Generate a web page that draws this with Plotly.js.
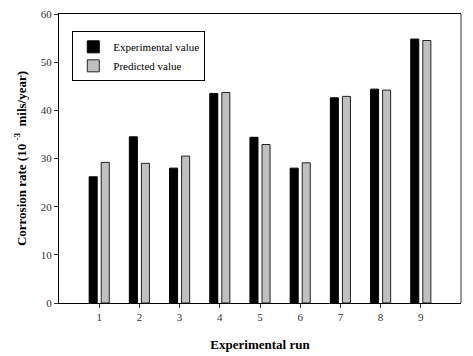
<!DOCTYPE html>
<html>
<head>
<meta charset="utf-8">
<script src="https://cdn.plot.ly/plotly-3.0.1.min.js"></script>
<style>html,body{margin:0;padding:0;background:#fff;}</style>
</head>
<body>
<div id="chart" style="width:473px;height:356px;"></div>
<script>
const runs = [1, 2, 3, 4, 5, 6, 7, 8, 9];
const tickLabels = ["1", "2", "3", "4", "5", "6", "7", "8", "9"];
const experimental = [26.2, 34.5, 28.0, 43.5, 34.4, 28.0, 42.6, 44.4, 54.8];
const predicted = [29.2, 29.0, 30.5, 43.7, 32.9, 29.1, 42.9, 44.2, 54.5];

const fontFam = '"Liberation Serif", "Times New Roman", serif';

const traces = [
  {
    type: 'bar', name: 'Experimental value', x: runs, y: experimental,
    width: 0.2, offset: -0.25,
    marker: {color: '#000000', line: {color: '#000000', width: 1}}
  },
  {
    type: 'bar', name: 'Predicted value', x: runs, y: predicted,
    width: 0.2, offset: 0.05,
    marker: {color: '#c0c0c0', line: {color: '#222222', width: 1}}
  }
];

const layout = {
  width: 473, height: 356,
  margin: {l: 59, r: 12, t: 14, b: 53},
  paper_bgcolor: '#ffffff', plot_bgcolor: '#ffffff',
  font: {family: fontFam, size: 11, color: '#333333'},
  showlegend: true,
  legend: {
    x: 0.033, y: 0.94, xanchor: 'left', yanchor: 'top',
    bgcolor: '#ffffff', bordercolor: '#000000', borderwidth: 1,
    font: {family: fontFam, size: 11, color: '#000000'},
    itemwidth: 30, tracegroupgap: 0
  },
  xaxis: {
    range: [0, 10], tickvals: runs, ticktext: tickLabels,
    showline: true, linecolor: '#000000', linewidth: 1, mirror: true,
    ticks: 'outside', ticklen: 4, tickcolor: '#333333',
    showgrid: false, zeroline: false,
    title: {text: '<b>Experimental run</b>', font: {family: fontFam, size: 13, color: '#000000'}, standoff: 17}
  },
  yaxis: {
    range: [0, 60], dtick: 10, tick0: 0,
    showline: true, linecolor: '#000000', linewidth: 1,
    ticks: 'outside', ticklen: 4, tickcolor: '#333333',
    showgrid: false, zeroline: false,
    title: {text: '<b>Corrosion rate (10 <sup>-3</sup>  mils/year)</b>', font: {family: fontFam, size: 13, color: '#000000'}, standoff: 11}
  },
  bargap: 0,
  shapes: [
    {type: 'line', xref: 'paper', yref: 'paper', x0: 1, x1: 1, y0: 0, y1: 1,
     line: {color: '#999999', width: 2}}
  ]
};

Plotly.newPlot('chart', traces, layout, {displayModeBar: false, staticPlot: true});
</script>
</body>
</html>
